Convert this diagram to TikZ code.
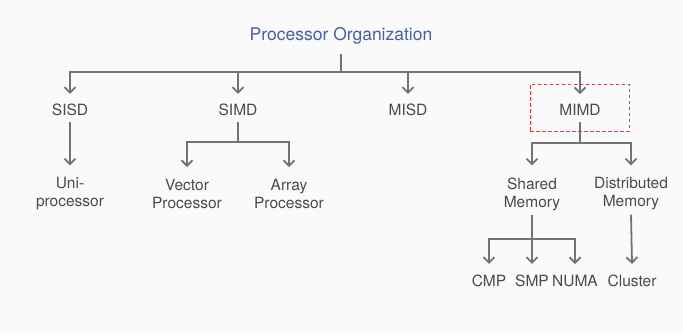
\documentclass[tikz,border=0pt]{standalone}
\usepackage{fontspec}
\setmainfont{TeX Gyre Heros}
\usetikzlibrary{arrows.meta}
\definecolor{bg}{HTML}{FAFAFA}
\definecolor{linegray}{HTML}{737373}
\definecolor{txtgray}{HTML}{4A4A4A}
\definecolor{titleblue}{HTML}{4361A6}
\definecolor{boxred}{HTML}{E8383D}
\begin{document}
\begin{tikzpicture}[x=1bp,y=-1bp,
  lbl/.style={font=\fontsize{15.5bp}{18bp}\selectfont, text=txtgray, align=center, inner sep=0pt},
  ttl/.style={font=\fontsize{17.5bp}{20bp}\selectfont, text=titleblue, inner sep=0pt},
  conn/.style={draw=linegray, line width=1.8bp},
  arr/.style={conn, -{Straight Barb[length=5.5bp,width=11bp,line width=1.8bp]}},
  hilite/.style={draw=boxred, line width=1bp, dash pattern=on 3.5bp off 2.5bp}]
\fill[bg] (0,0) rectangle (683,335);
\useasboundingbox (0,0) rectangle (683,335);

% nodes
\node[ttl] (title) at (341,36) {Processor Organization};
\node[lbl] (sisd) at (70,110) {SISD};
\node[lbl] (simd) at (238,110) {SIMD};
\node[lbl] (misd) at (408,110) {MISD};
\node[lbl] (mimd) at (580,110) {MIMD};
\node[lbl] (uni) at (70,194) {Uni-\\processor};
\node[lbl] (vec) at (187,194) {Vector\\Processor};
\node[lbl] (arrp) at (289,194) {Array\\Processor};
\node[lbl] (shm) at (532,194) {Shared\\Memory};
\node[lbl] (dim) at (631,194) {Distributed\\Memory};
\node[lbl] (cmp) at (489,281) {CMP};
\node[lbl] (smp) at (532,281) {SMP};
\node[lbl] (numa) at (575,281) {NUMA};
\node[lbl] (clu) at (632,281) {Cluster};

% junction coordinates
\coordinate (j0) at (341,72);
\coordinate (j1) at (238,142);
\coordinate (j2) at (580,143);
\coordinate (j3) at (532,239);

% top level
\draw[conn] ([yshift=-9bp]title.south) -- (j0);
\draw[arr] (j0) -| ([yshift=10bp]sisd.north);
\draw[arr] (j0) -| ([yshift=10bp]simd.north);
\draw[arr] (j0) -| ([yshift=10bp]misd.north);
\draw[arr] (j0) -| ([yshift=10bp]mimd.north);

% SISD
\draw[arr] ([yshift=-6bp]sisd.south) -- ([yshift=12bp]uni.north);
% SIMD
\draw[conn] ([yshift=-6bp]simd.south) -- (j1);
\draw[arr] (j1) -| ([yshift=12bp]vec.north);
\draw[arr] (j1) -| ([yshift=12bp]arrp.north);
% MIMD
\draw[conn] ([yshift=-6bp]mimd.south) -- (j2);
\draw[arr] (j2) -| ([yshift=12bp]shm.north);
\draw[arr] (j2) -| ([yshift=12bp]dim.north);
% Shared memory
\draw[conn] ([yshift=-4bp]shm.south) -- (j3);
\draw[arr] (j3) -| ([yshift=11bp]cmp.north);
\draw[arr] (j3) -- ([yshift=11bp]smp.north);
\draw[arr] (j3) -| ([yshift=11bp]numa.north);
% Distributed memory
\draw[arr] ([yshift=-4bp]dim.south) -- ([yshift=11bp]clu.north);

% highlight box
\node[hilite, minimum width=99bp, minimum height=47bp, inner sep=0pt] (box) at (579.5,107.5) {};
\end{tikzpicture}
\end{document}
